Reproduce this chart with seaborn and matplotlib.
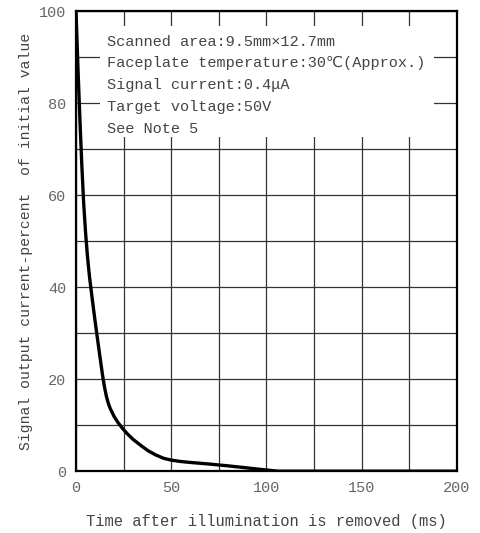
import matplotlib
matplotlib.use("Agg")
import matplotlib.pyplot as plt
import seaborn as sns
import pandas as pd
from matplotlib.patches import Rectangle

time_ms = [0, 1, 2, 3, 4, 5, 6, 7, 8, 9, 10, 11, 12, 13, 14, 15, 16, 17, 18, 20, 22, 24,
           27, 30, 34, 38, 42, 46, 50, 55, 60, 70, 80, 90, 100, 106, 150, 200]
signal_pct = [100, 88, 77, 67, 58.5, 52, 46.8, 42.6, 39.2, 35.9, 32.7, 29.6, 26.6, 23.6, 20.7,
              18.2, 16.2, 14.7, 13.6, 11.9, 10.6, 9.5, 8.1, 6.9, 5.6, 4.4, 3.5, 2.8, 2.4,
              2.1, 1.9, 1.55, 1.15, 0.7, 0.25, 0, 0, 0]
x_ticks = [0, 50, 100, 150, 200]
y_ticks = [0, 20, 40, 60, 80, 100]
notes = ["Scanned area:9.5mm×12.7mm",
         "Faceplate temperature:30℃(Approx.)",
         "Signal current:0.4μA",
         "Target voltage:50V",
         "See Note 5"]

sns.set_theme(style="white")
plt.rcParams['font.family'] = ['Liberation Mono', 'DejaVu Sans Mono', 'DejaVu Sans', 'Noto Sans CJK JP']

df = pd.DataFrame({"t": time_ms, "s": signal_pct})
fig = plt.figure(figsize=(4.81, 5.33), dpi=100)
ax = fig.add_axes([0.158, 0.116, 0.792, 0.863])
sns.lineplot(data=df, x="t", y="s", ax=ax, color="black", linewidth=2.4, zorder=4,
             solid_joinstyle="round", solid_capstyle="round")

ax.set_xlim(0, 200)
ax.set_ylim(0, 100)
ax.set_xticks(range(0, 201, 25))
ax.set_yticks(range(0, 101, 10))
ax.set_xticklabels([str(v) if v in x_ticks else "" for v in range(0, 201, 25)])
ax.set_yticklabels([str(v) if v in y_ticks else "" for v in range(0, 101, 10)])
ax.grid(True, color="#333333", linewidth=0.9)
ax.set_axisbelow(True)
ax.tick_params(length=0, labelsize=11, labelcolor="#666666", pad=7)
for sp in ax.spines.values():
    sp.set_color("black")
    sp.set_linewidth(1.6)

ax.add_patch(Rectangle((12.5, 72.7), 175.5, 24, facecolor="white", edgecolor="none", zorder=2))
y0 = 93.4
for i, line in enumerate(notes):
    ax.text(16.5, y0 - i * 4.75, line, fontsize=11, color="#444444", va="center", ha="left", zorder=3)

ax.set_xlabel("Time after illumination is removed (ms)", fontsize=11.2, color="#444444", labelpad=14)
ax.set_ylabel("Signal output current-percent  of initial value", fontsize=10.6, color="#444444", labelpad=4)

fig.savefig("out.png", dpi=100)
